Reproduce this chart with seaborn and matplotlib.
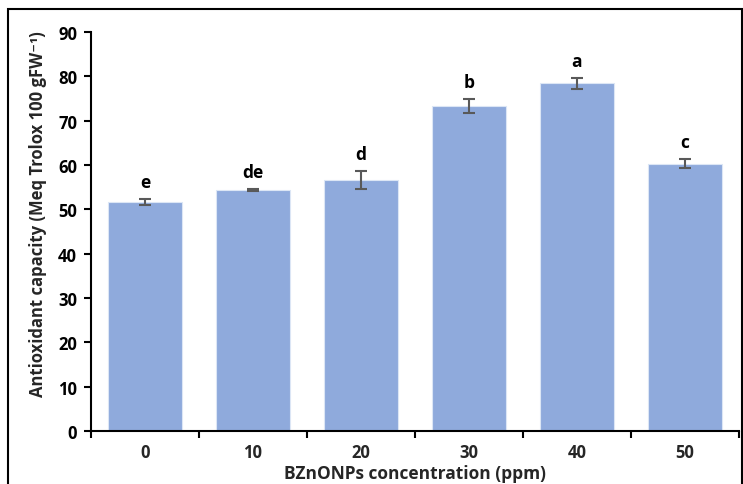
import matplotlib
matplotlib.use('Agg')
import matplotlib.pyplot as plt
import pandas as pd
import seaborn as sns
from matplotlib.patches import Rectangle

# data
conc = ['0', '10', '20', '30', '40', '50']
capacity = [51.7, 54.3, 56.6, 73.3, 78.4, 60.3]
err = [0.7, 0.2, 2.0, 1.5, 1.2, 1.1]
letters = ['e', 'de', 'd', 'b', 'a', 'c']

df = pd.DataFrame({'conc': conc, 'capacity': capacity})

sns.set_style('white')
plt.rcParams['font.family'] = ['Open Sans', 'DejaVu Sans']
plt.rcParams['font.weight'] = 'bold'

fig = plt.figure(figsize=(7.43, 4.85), dpi=100)
ax = fig.add_axes([0.1225, 0.1093, 0.872, 0.823])

sns.barplot(data=df, x='conc', y='capacity', color='#8faadc', saturation=1,
            width=0.685, edgecolor='#dce6f5', linewidth=0.8, ax=ax)
ax.errorbar(range(len(conc)), capacity, yerr=err, fmt='none',
            ecolor='#595959', elinewidth=1.5, capsize=4, capthick=1.5)

for i, (v, e, t) in enumerate(zip(capacity, err, letters)):
    ax.text(i, v + e + 1.8, t, ha='center', va='bottom', fontsize=12.5,
            fontweight='bold', color='black')

ax.set_xlim(-0.5, len(conc) - 0.5)
ax.set_ylim(0, 90)
ax.set_yticks(range(0, 91, 10))

for s in ['top', 'right']:
    ax.spines[s].set_visible(False)
for s in ['left', 'bottom']:
    ax.spines[s].set_color('black')
    ax.spines[s].set_linewidth(1.5)

ax.tick_params(axis='y', which='major', direction='out', length=5, width=1.5,
               left=True, labelsize=12, colors='black', pad=5)
ax.tick_params(axis='x', which='major', length=0, labelsize=12, pad=9)
ax.set_xticks([i + 0.5 for i in range(-1, len(conc))], minor=True)
ax.tick_params(axis='x', which='minor', direction='out', length=5, width=1.5,
               bottom=True, color='black')
for lab in ax.get_xticklabels() + ax.get_yticklabels():
    lab.set_fontweight('bold')

ax.set_xlabel('BZnONPs concentration (ppm)', fontsize=12.5, fontweight='bold',
              labelpad=2)
ax.set_ylabel('Antioxidant capacity (Meq Trolox 100 gFW\u207b\u00b9)',
              fontsize=12, fontweight='bold', labelpad=8)
ax.yaxis.set_label_coords(-0.068, 0.545)

fig.patches.append(Rectangle((8 / 743, -0.01), 1 - 9 / 743, 1 - 10 / 485 + 0.01,
                             transform=fig.transFigure, fill=False,
                             edgecolor='black', linewidth=1.5))

fig.savefig('out.png', dpi=100)
